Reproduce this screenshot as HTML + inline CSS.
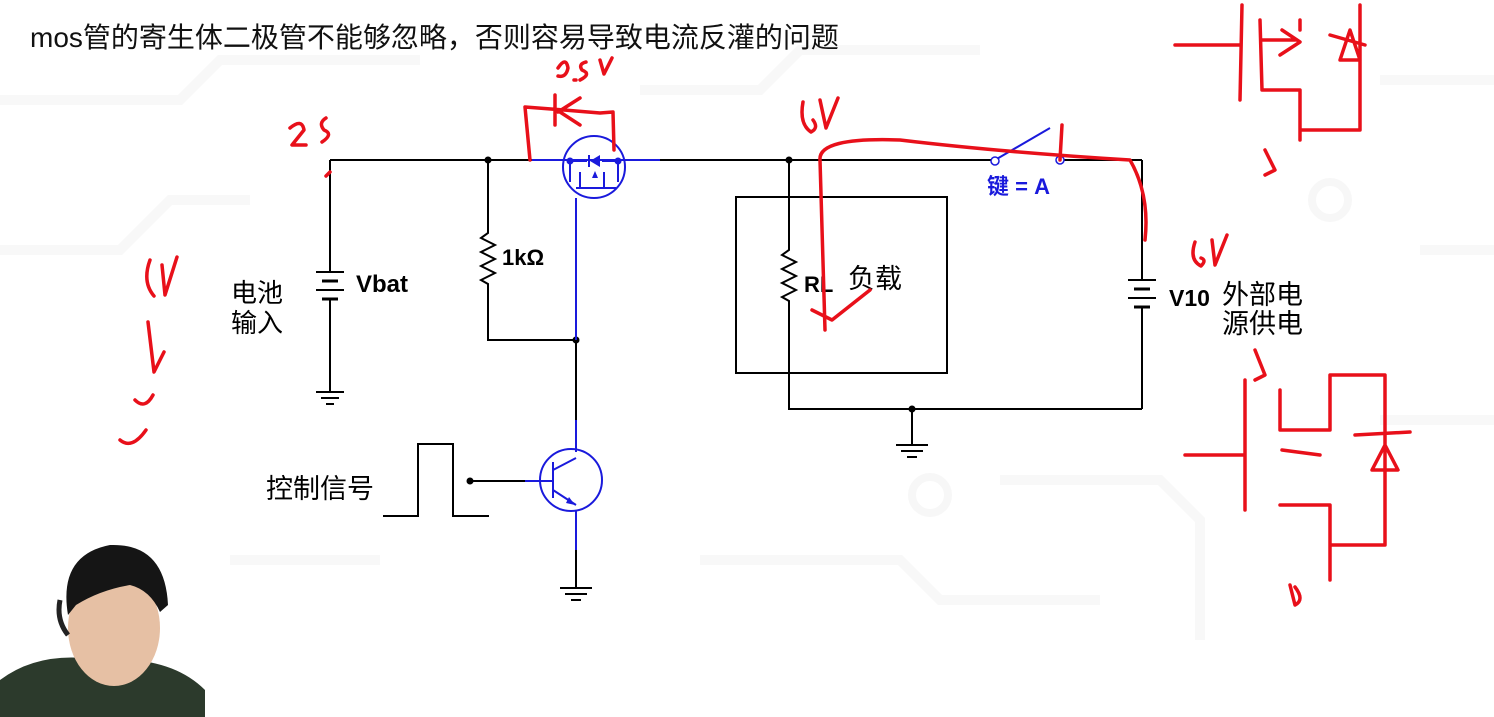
<!DOCTYPE html>
<html><head><meta charset="utf-8"><style>
html,body{margin:0;padding:0;background:#fff;}
svg{display:block}
text{font-family:"Liberation Sans","Noto Sans CJK SC",sans-serif;}
</style></head><body>
<svg width="1494" height="717" viewBox="0 0 1494 717" xmlns="http://www.w3.org/2000/svg">
<rect width="1494" height="717" fill="#fff"/>
<g stroke="#f8f8f8" stroke-width="10" fill="none">
<path d="M0 100 H180 L220 60 H420"/><path d="M0 250 H120 L170 200 H250"/>
<path d="M640 90 H760 L800 50 H980"/><path d="M1000 480 H1160 L1200 520 V640"/>
<path d="M1380 80 H1494"/><path d="M1380 420 H1494"/><path d="M700 560 H900 L940 600 H1100"/>
<path d="M230 560 H380"/><path d="M1420 250 H1494"/>
</g>
<g fill="none" stroke="#f7f7f7" stroke-width="8"><circle cx="930" cy="495" r="18"/><circle cx="1330" cy="200" r="18"/></g>

<text x="30" y="47" font-size="28" fill="#111">mos管的寄生体二极管不能够忽略，否则容易导致电流反灌的问题</text>

<g stroke="#000" stroke-width="2" fill="none">
<path d="M330 160 H532"/><path d="M660 160 H992"/><path d="M1063 160 H1142"/>
<path d="M330 160 V272"/><path d="M316 272 H344"/><path d="M322 281 H338" stroke-width="3"/>
<path d="M316 290 H344"/><path d="M322 299 H338" stroke-width="3"/><path d="M330 299 V392"/>
<path d="M316 392 H344 M321 398 H339 M326 404 H334"/>
<path d="M488 160 V233 l-7 5 l14 7 l-14 7 l14 7 l-14 7 l14 7 l-14 7 l7 4 V340 H576"/>
<path d="M576 340 V420"/>
<path d="M383 516 H418 V444 H453 V516 H489"/>
<path d="M470 481 H525"/>
<path d="M576 550 V588"/><path d="M560 588 H592 M565 594 H587 M571 600 H581"/>
<rect x="736" y="197" width="211" height="176"/>
<path d="M789 160 V250 l-7 5 l14 7 l-14 7 l14 7 l-14 7 l14 7 l-14 7 l7 4 V409 H1142"/>
<path d="M912 409 V445"/><path d="M896 445 H928 M901 451 H923 M907 457 H917"/>
<path d="M1142 160 V280"/><path d="M1128 280 H1156"/><path d="M1134 289 H1150" stroke-width="3"/>
<path d="M1128 298 H1156"/><path d="M1134 307 H1150" stroke-width="3"/><path d="M1142 307 V409"/>
</g>
<g fill="#000"><circle cx="488" cy="160" r="3.5"/><circle cx="789" cy="160" r="3.5"/><circle cx="576" cy="340" r="3.5"/><circle cx="470" cy="481" r="3.5"/><circle cx="912" cy="409" r="3.5"/></g>

<g stroke="#1a1adc" stroke-width="2" fill="none">
<path d="M532 160 H660"/>
<circle cx="594" cy="167" r="31"/>
<path d="M570 161 V182 M580 172 V188 M604 172 V188 M576 188 H616"/>
<path d="M570 161 H587 M602 161 H618 V182"/>
<path d="M576 198 V340"/>
<path d="M576 420 V452 M576 510 V550"/>
<circle cx="571" cy="480" r="31"/>
<path d="M553 462 V498 M525 481 H553 M553 470 L576 458 M553 490 L576 505"/>
<path d="M995 160 L1050 128"/>
</g>
<g fill="#1a1adc"><path d="M590 161 L600 155 L600 167 Z"/><rect x="588" y="155" width="2" height="12"/><circle cx="570" cy="161" r="3.5"/><circle cx="618" cy="161" r="3.5"/><path d="M592 178 L598 178 L595 171 Z"/><path d="M569 497 L575 505 L566 503 Z"/></g>
<g fill="#fff" stroke="#1a1adc" stroke-width="1.5"><circle cx="995" cy="161" r="4"/><circle cx="1060" cy="160" r="4"/></g>
<text x="987" y="194" font-size="22" fill="#1a1adc" font-weight="bold">键 = A</text>

<text x="356" y="292" font-size="24" font-weight="bold">Vbat</text>
<text x="231" y="302" font-size="26">电池</text><text x="231" y="332" font-size="26">输入</text>
<text x="502" y="265" font-size="22" font-weight="bold">1kΩ</text>
<text x="804" y="292" font-size="22" font-weight="bold">RL</text>
<text x="848" y="288" font-size="27">负载</text>
<text x="1169" y="306" font-size="23" font-weight="bold">V10</text>
<text x="1222" y="304" font-size="27">外部电</text><text x="1222" y="333" font-size="27">源供电</text>
<text x="266" y="498" font-size="27">控制信号</text>

<g stroke="#e8101a" stroke-width="3.5" fill="none" stroke-linecap="round" stroke-linejoin="round">
<path d="M558 68 q8 -12 10 0 q-2 10 -10 8 M574 80 l2 0 M586 62 q-8 2 -4 8 q10 4 -2 10 M600 60 l4 14 l8 -16"/>
<path d="M530 160 L525 107 L564 110 L600 113 L613 112 L614 150 M555 95 L555 125 M558 112 L580 98 M560 112 L580 125"/>
<path d="M290 128 q12 -10 14 2 l-12 15 l14 0 M326 118 q-8 5 -2 12 q10 4 -2 12 M326 176 l4 -4"/>
<path d="M803 102 q-4 22 8 30 q8 -4 2 -12 M820 100 l6 28 l12 -30"/>
<path d="M825 330 L820 160 Q818 137 900 140 Q1000 152 1130 160 Q1150 195 1145 240"/>
<path d="M812 310 L832 320 L870 290"/>
<path d="M1060 160 L1062 125"/>
<path d="M1195 242 q-6 18 6 24 q6 -6 0 -8 M1212 240 l3 25 l12 -30"/>
<path d="M150 260 q-8 22 4 36 M162 265 l3 30 l12 -38 M148 322 l6 50 l10 -20 M135 400 q10 10 18 -5 M120 440 q12 10 26 -10"/>
<path d="M1175 45 L1240 45 M1242 5 L1240 100 M1260 20 L1262 90 M1262 40 L1295 40 M1282 30 L1300 42 L1280 55 M1262 90 L1300 90 L1300 140 M1300 20 L1300 30 M1360 5 L1360 130 L1300 130 M1330 35 L1365 45 M1340 60 L1350 30 L1360 60 Z M1265 150 L1275 170 L1265 175"/>
<path d="M1255 350 L1265 375 L1255 380 M1185 455 L1245 455 M1245 380 L1245 510 M1280 390 L1280 430 L1330 430 L1330 375 L1385 375 L1385 545 L1330 545 L1330 580 M1282 450 L1320 455 M1280 505 L1330 505 L1330 550 M1355 435 L1410 432 M1372 470 L1385 445 L1398 470 Z M1290 585 l5 20 q10 -5 0 -18"/>
</g>

<g>
<path d="M0 717 L0 680 Q40 650 100 660 Q170 655 205 690 L205 717 Z" fill="#2c3a2c"/>
<ellipse cx="114" cy="628" rx="46" ry="58" fill="#e6c0a4"/>
<path d="M68 615 Q58 555 110 545 Q165 543 168 605 L160 612 Q150 590 130 585 Q100 590 76 605 Z" fill="#151515"/>
<path d="M60 600 q-4 20 8 35" stroke="#222" stroke-width="5" fill="none"/>
</g>
</svg>
</body></html>
